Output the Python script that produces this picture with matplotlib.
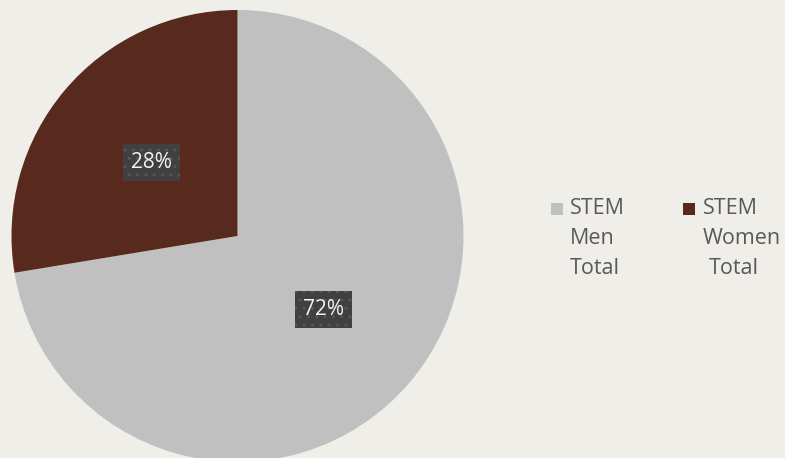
import numpy as np
import matplotlib.pyplot as plt
from matplotlib.patches import Rectangle

plt.rcParams['font.family'] = ['Open Sans', 'DejaVu Sans']

labels = ['STEM\nMen\nTotal', 'STEM\nWomen\nTotal']
shares = [72.4, 27.6]
colors = ['#c0c0c0', '#582a1e']
bg = '#f0eee9'

fig = plt.figure(figsize=(7.85, 4.58), dpi=100, facecolor=bg)
W, H = 785, 458
cx, cy, r = 237.5, 236, 226
ax = fig.add_axes([(cx - r) / W, (H - cy - r) / H, 2 * r / W, 2 * r / H])
ax.set_facecolor(bg)

wedges, texts, autotexts = ax.pie(
    shares, colors=colors, startangle=90, counterclock=False, radius=1,
    autopct=lambda p: f'{p:.0f}%', pctdistance=0.5,
    wedgeprops=dict(linewidth=0),
    textprops=dict(fontsize=15, color='#f2f2f2'))
ax.set_xlim(-1, 1)
ax.set_ylim(-1, 1)
ax.axis('off')
for w in wedges:
    w.set_clip_on(False)
for t in autotexts:
    t.set_bbox(dict(boxstyle='square,pad=0.38', facecolor='#404040',
                    edgecolor='#555555', hatch='..', linewidth=0))

# legend
items = [(557, 570, labels[0], colors[0]), (689, 703, labels[1], colors[1])]
for mx, tx, lab, col in items:
    fig.add_artist(Rectangle(((mx - 6) / W, (H - 209 - 6) / H), 12 / W, 12 / H,
                             transform=fig.transFigure, facecolor=col, edgecolor='none'))
    for i, line in enumerate(lab.split('\n')):
        off = 6 if (line == 'Total' and 'Women' in lab) else 0
        fig.text((tx + off) / W, (H - 209 - 30 * i) / H, line, ha='left', va='center',
                 fontsize=15.5, color='#595959')

fig.savefig('out.png', dpi=100, facecolor=bg)
